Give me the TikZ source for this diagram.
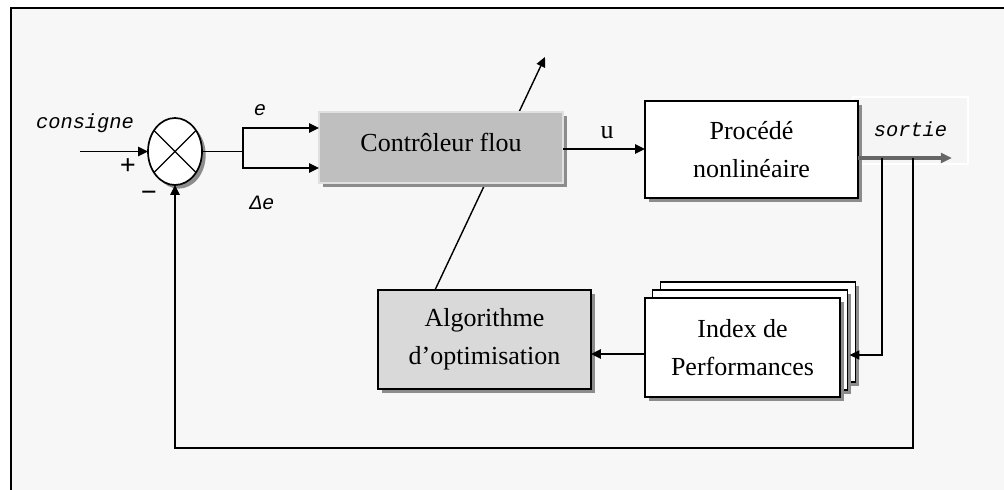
\documentclass[tikz,border=0pt]{standalone}
\usepackage{fontspec}
\setmainfont{Liberation Serif}
\newfontfamily\labfont{Liberation Mono}
\usetikzlibrary{arrows.meta, shapes, positioning, calc, shadows, backgrounds}

\begin{document}
\begin{tikzpicture}[
        x=0.025cm, y=-0.025cm,
        font=\fontsize{18.5}{27}\selectfont,
        block/.style={
          draw,
          line width=1.2pt,
          inner sep=0pt,
          outer sep=0pt,
          align=center,
          drop shadow={shadow xshift=2.6pt, shadow yshift=-2.6pt, fill=black!45, opacity=1}
        },
        lab/.style={font=\labfont\itshape\fontsize{14.5}{16}\selectfont, inner sep=0pt},
        sign/.style={font=\bfseries\fontsize{20}{20}\selectfont, inner sep=0pt},
        flow/.style={-{Triangle[length=7pt, width=6.5pt]}, line width=1.3pt, draw=black},
        wire/.style={line width=1.3pt, draw=black},
        fine/.style={line width=0.8pt, draw=black}
      ]

      \useasboundingbox (0,0) rectangle (1004,490);

      \node[draw=white, fill=black!4, line width=1pt, minimum width=2.875cm, minimum height=1.675cm, inner sep=0pt] (sortie) at (910.5,130.5) {\raisebox{2pt}{\labfont\itshape\fontsize{14.5}{16}\selectfont sortie}};

      \node[block, ellipse, fill=white, minimum width=1.35cm, minimum height=1.675cm] (sum) at (175,151.5) {};
      \draw[fine] (sum.45) -- (sum.225) (sum.135) -- (sum.315);

      \node[block, draw=black!12, fill=black!25, minimum width=6.1cm, minimum height=1.775cm] (ctrl) at (441,147.5) {\raisebox{7.5pt}{Contrôleur flou}};

      \node[block, fill=white, minimum width=5.325cm, minimum height=2.425cm] (proc) at (751.5,149.5) {Procédé\\nonlinéaire};

      \node[block, fill=black!15, minimum width=5.325cm, minimum height=2.475cm] (algo) at (484.5,339.5) {Algorithme\\d'optimisation};

      \node[block, fill=white, minimum width=4.875cm, minimum height=2.5cm] (idxb) at (758,332) {};
      \node[block, fill=white, minimum width=4.875cm, minimum height=2.5cm] (idxm) at (750,340) {};
      \node[block, fill=white, minimum width=4.875cm, minimum height=2.475cm] (idx) at (742.5,347.5) {Index de\\Performances};

      \node[lab] (consigne) at (85,123) {consigne};
      \node[lab] (err) at (260,110) {e};
      \node[lab] (derr) at (262,203) {Δe};
      \node[inner sep=0pt] (cmd) at (607,133) {u};
      \node[sign] (plus) at (128,167) {+};
      \node[sign] (minus) at (149,196) {\textminus};

      \coordinate (in) at (80,151.5);
      \coordinate (split) at (243,151.5);
      \coordinate (out) at (952,158);
      \coordinate (b1) at (882,158);
      \coordinate (b2) at (913,158);
      \coordinate (tune) at (545,57);

      \draw[flow] (in) -- (sum.west);
      \draw[wire] (sum.east) -- (split);
      \draw[flow] (split) |- ($(ctrl.west)+(0,-19.5)$);
      \draw[flow] (split) |- ($(ctrl.west)+(0,20.5)$);
      \draw[flow] ($(ctrl.east)+(0,1.5)$) -- ($(proc.west)+(0,-0.5)$);
      \draw[-{Triangle[length=8pt, width=7pt]}, line width=2.4pt, draw=black!60] (proc.east |- out) -- (out);
      \draw[fine, -{Triangle[length=7pt, width=6.5pt]}] (b1) |- ($(idxb.east)+(-6,23)$);
      \draw[flow] (b2) -- ++(0,290) -| (sum.south);
      \draw[flow] ($(idx.west)+(0,6.5)$) -- ($(algo.east)+(0,14.5)$);

      \begin{scope}[on background layer]
        \fill[black!3] (11,8) rectangle (1004,490);
        \draw[-{Triangle[length=7pt, width=6.5pt]}, line width=1pt] ($(algo.north)+(-49.5,0)$) -- (tune);
      \end{scope}

      \draw[line width=1.4pt] (11,490) -- (11,8) -- (1004,8);
    \end{tikzpicture}
\end{document}
